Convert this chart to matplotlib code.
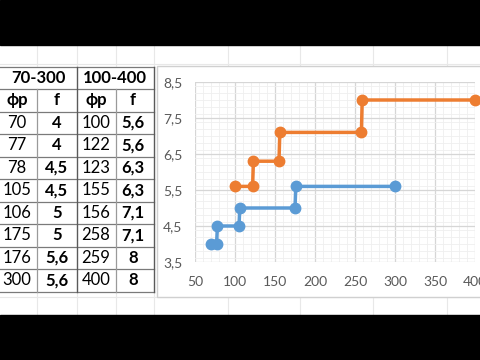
import matplotlib
matplotlib.use("Agg")
import matplotlib.pyplot as plt
from matplotlib.patches import Rectangle
from matplotlib.ticker import MultipleLocator, FuncFormatter

plt.rcParams['font.family'] = ['Lato', 'DejaVu Sans']

# Данные таблицы / графика
range_a = "70-300"
range_b = "100-400"
fr_a = [70, 77, 78, 105, 106, 175, 176, 300]
f_a = [4, 4, 4.5, 4.5, 5, 5, 5.6, 5.6]
fr_b = [100, 122, 123, 155, 156, 258, 259, 400]
f_b = [5.6, 5.6, 6.3, 6.3, 7.1, 7.1, 8, 8]
col_names = ["фр", "f", "фр", "f"]

blue = "#5B9BD5"
orange = "#ED7D31"


def fmt(v):
    s = ("%g" % v).replace(".", ",")
    return s


fig = plt.figure(figsize=(4.8, 3.6), dpi=100)

# фон в пиксельных координатах
bg = fig.add_axes([0, 0, 1, 1])
bg.set_xlim(0, 480)
bg.set_ylim(360, 0)
bg.axis("off")

# сетка листа
for xv in [37, 77, 116, 154, 228, 300, 373, 447]:
    bg.plot([xv, xv], [45, 315], color="#e8e8e8", lw=0.8, zorder=0)
for yv in [64, 297]:
    bg.plot([0, 480], [yv, yv], color="#e8e8e8", lw=0.8, zorder=0)

# черные полосы
bg.add_patch(Rectangle((0, 0), 480, 45, color="black", zorder=5))
bg.add_patch(Rectangle((0, 315), 480, 45, color="black", zorder=5))

# таблица
top = 66.7
rh = 22.5
n_rows = 2 + len(fr_a)
bottom = top + rh * n_rows
table_bg = Rectangle((0, top), 154, bottom - top, color="white", zorder=1)
bg.add_patch(table_bg)
for i in range(n_rows + 1):
    yv = top + rh * i
    bg.plot([0, 154], [yv, yv], color="#7a7a7a", lw=0.9, zorder=2)
for xv, c in [(37, "#9a9a9a"), (116, "#9a9a9a")]:
    bg.plot([xv, xv], [top + rh, bottom], color=c, lw=0.9, zorder=2)
for xv in [77, 154]:
    bg.plot([xv, xv], [top, bottom], color="#5a5a5a", lw=1.0, zorder=2)

col_x = [17, 57, 96, 133]
bg.text(38, top + rh / 2, range_a, ha="center", va="center", fontsize=12,
        fontweight="bold", zorder=3)
bg.text(115, top + rh / 2, range_b, ha="center", va="center", fontsize=12,
        fontweight="bold", zorder=3)
for cx, name in zip(col_x, col_names):
    bg.text(cx, top + rh * 1.5, name, ha="center", va="center", fontsize=12,
            fontweight="bold", zorder=3)
for i in range(len(fr_a)):
    yc = top + rh * (2.5 + i)
    row = [(fr_a[i], "normal"), (f_a[i], "bold"), (fr_b[i], "normal"), (f_b[i], "bold")]
    for cx, (v, w) in zip(col_x, row):
        bg.text(cx, yc, fmt(v), ha="center", va="center", fontsize=12,
                fontweight=w, zorder=3)

# рамка диаграммы
bg.add_patch(Rectangle((157, 66), 330, 231, facecolor="white",
                       edgecolor="#d0d0d0", lw=1.0, zorder=1))

# диаграмма
ax = fig.add_axes([195 / 480, 1 - 262 / 360, 280 / 480, 180 / 360])
ax.set_zorder(4)
ax.patch.set_alpha(0)
ax.set_xlim(50, 400)
ax.set_ylim(3.5, 8.5)
ax.xaxis.set_major_locator(MultipleLocator(50))
ax.xaxis.set_minor_locator(MultipleLocator(10))
ax.set_yticks([3.5, 4.5, 5.5, 6.5, 7.5, 8.5])
ax.yaxis.set_minor_locator(MultipleLocator(0.2))
ax.yaxis.set_major_formatter(FuncFormatter(lambda v, p: ("%.1f" % v).replace(".", ",")))
ax.grid(which="major", color="#d6d6d6", lw=0.9)
ax.grid(which="minor", color="#efefef", lw=0.6)
ax.set_axisbelow(True)
for s in ax.spines.values():
    s.set_visible(False)
ax.tick_params(which="both", length=0)
ax.tick_params(axis="x", pad=10, labelsize=10, labelcolor="#595959")
ax.tick_params(axis="y", pad=9, labelsize=10, labelcolor="#595959")

ax.plot(fr_a, f_a, color=blue, lw=2.5, marker="o", markersize=7.5, clip_on=False)
ax.plot(fr_b, f_b, color=orange, lw=2.5, marker="o", markersize=7.5, clip_on=False)

fig.savefig("out.png", dpi=100)
